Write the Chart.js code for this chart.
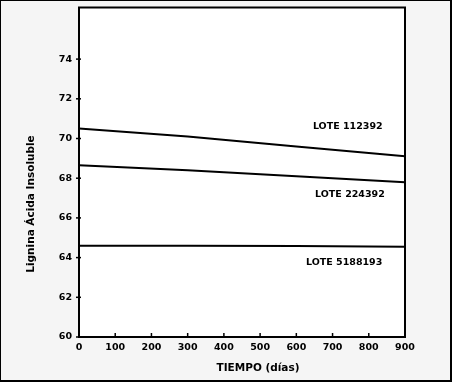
<!DOCTYPE html>
<html>
<head>
<meta charset="utf-8">
<script src="https://cdn.jsdelivr.net/npm/chart.js@4.4.1/dist/chart.umd.min.js"></script>
<style>
  body { margin: 0; background: #f5f5f5; }
  canvas { display: block; }
</style>
</head>
<body>
<canvas id="myChart" width="452" height="382"></canvas>
<script>
// datos
const tiempo = [0, 300, 600, 900];
const lote112392 = [70.5, 70.1, 69.6, 69.1];
const lote224392 = [68.65, 68.4, 68.1, 67.8];
const lote5188193 = [64.6, 64.6, 64.58, 64.55];
const yTicks = [60, 62, 64, 66, 68, 70, 72, 74];
const xTicks = [0, 100, 200, 300, 400, 500, 600, 700, 800, 900];
const loteNames = ["LOTE 112392", "LOTE 224392", "LOTE 5188193"];

const ctx = document.getElementById('myChart');
const tickFont = { family: "'DejaVu Sans', Verdana, sans-serif", size: 9.5, weight: 'bold' };
const titleFont = "bold 10.5px 'DejaVu Sans', Verdana, sans-serif";

// where the series names sit, in axis units
const loteLabelX = [742, 748, 732];
const loteLabelY = [70.6, 67.2, 63.75];

const serie = (data) => {
  return {
    data: data.map((v, i) => ({ x: tiempo[i], y: v })),
    borderColor: '#000',
    borderWidth: 2,
    pointRadius: 0,
    fill: false,
    tension: 0
  }
};

const framePlugin = {
  id: 'frame',
  beforeDraw(chart) {
    const c = chart.ctx;
    const a = chart.chartArea;
    c.save();
    c.fillStyle = '#f5f5f5';
    c.fillRect(0, 0, chart.width, chart.height);
    c.fillStyle = '#fff';
    c.fillRect(a.left, a.top, a.right - a.left, a.bottom - a.top);
    c.restore();
  },
  afterDraw(chart) {
    const c = chart.ctx;
    const a = chart.chartArea;
    const xs = chart.scales.x;
    const ys = chart.scales.y;
    c.save();
    c.strokeStyle = '#000';
    c.lineWidth = 2;
    c.strokeRect(a.left, a.top, a.right - a.left, a.bottom - a.top);
    // outer border of the picture
    c.strokeRect(0, 0, chart.width - 1, chart.height - 1);

    // tick marks
    c.lineWidth = 1.5;
    yTicks.forEach(v => {
      const py = ys.getPixelForValue(v);
      c.beginPath();
      c.moveTo(a.left - 3, py);
      c.lineTo(a.left + 2, py);
      c.stroke();
    });
    xTicks.forEach(v => {
      const px = xs.getPixelForValue(v);
      c.beginPath();
      c.moveTo(px, a.bottom - 4);
      c.lineTo(px, a.bottom + 1);
      c.stroke();
    });

    c.fillStyle = '#000';
    c.font = "bold 9.5px 'DejaVu Sans', Verdana, sans-serif";
    c.textAlign = 'center';
    c.textBaseline = 'middle';
    loteNames.forEach((name, i) => {
      c.fillText(name, xs.getPixelForValue(loteLabelX[i]), ys.getPixelForValue(loteLabelY[i]));
    });

    // axis titles
    c.font = titleFont;
    c.fillText('TIEMPO (días)', 258, 368);
    c.translate(31, 204);
    c.rotate(-Math.PI / 2);
    c.fillText('Lignina Ácida Insoluble', 0, 0);
    c.restore();
  }
};

const myChart = new Chart(ctx, {
  type: 'line',
  data: {
    datasets: [serie(lote112392), serie(lote224392), serie(lote5188193)]
  },
  options: {
    responsive: false,
    animation: false,
    layout: { padding: { top: 7.5, right: 47, left: 0, bottom: 0 } },
    plugins: {
      legend: { display: false },
      tooltip: { enabled: false }
    },
    scales: {
      x: {
        type: 'linear',
        min: 0,
        max: 900,
        afterBuildTicks: scale => { scale.ticks = xTicks.map(v => ({ value: v })); },
        afterFit: scale => {
          scale.height = 45;
          scale.paddingLeft = 0;
          scale.paddingRight = 0;
        },
        grid: { display: false, drawTicks: false },
        border: { display: false },
        ticks: { color: '#000', font: tickFont, padding: 4.5, maxRotation: 0, autoSkip: false }
      },
      y: {
        min: 60,
        max: 76.6,
        afterBuildTicks: scale => { scale.ticks = yTicks.map(v => ({ value: v })); },
        afterFit: scale => {
          scale.width = 79;
          scale.paddingTop = 0;
          scale.paddingBottom = 0;
        },
        grid: { display: false, drawTicks: false },
        border: { display: false },
        ticks: { color: '#000', font: tickFont, padding: 7 }
      }
    }
  },
  plugins: [framePlugin]
});
</script>
</body>
</html>
